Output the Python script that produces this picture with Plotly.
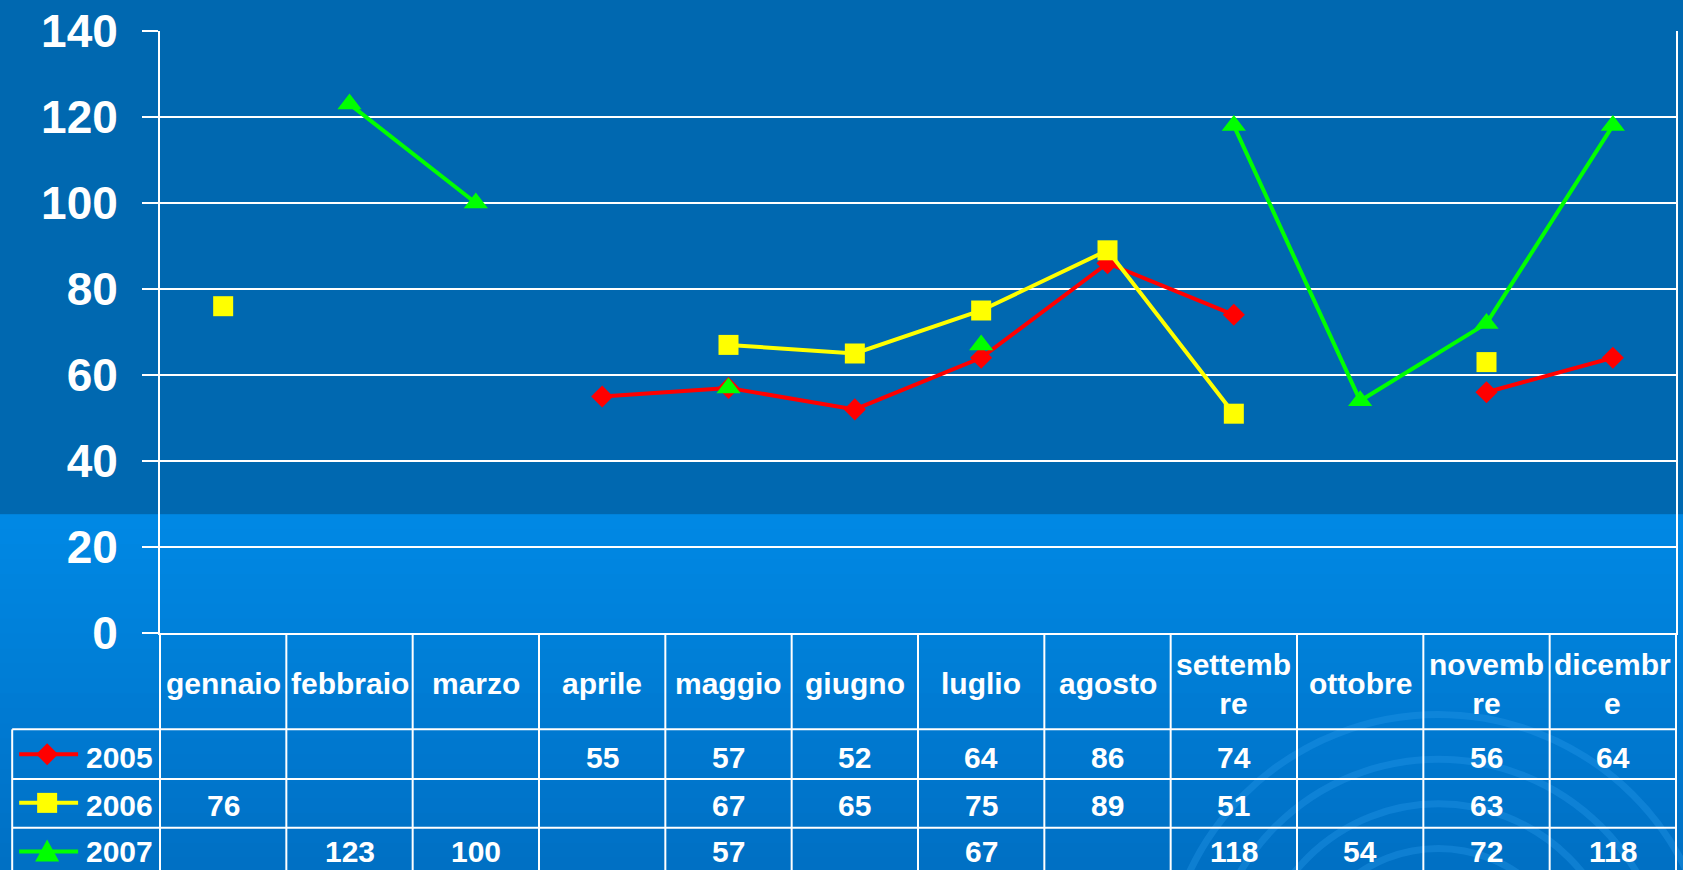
import plotly.graph_objects as go

# ---------------- data ----------------
months = ["gennaio", "febbraio", "marzo", "aprile", "maggio", "giugno",
          "luglio", "agosto", "settembre", "ottobre", "novembre", "dicembre"]
month_labels = ["gennaio", "febbraio", "marzo", "aprile", "maggio", "giugno",
                "luglio", "agosto", "settemb<br>re", "ottobre", "novemb<br>re", "dicembr<br>e"]
years = ["2005", "2006", "2007"]
v2005 = [None, None, None, 55, 57, 52, 64, 86, 74, None, 56, 64]
v2006 = [76, None, None, None, 67, 65, 75, 89, 51, None, 63, None]
v2007 = [None, 123, 100, None, 57, None, 67, None, 118, 54, 72, 118]
y_ticks = [0, 20, 40, 60, 80, 100, 120, 140]

series = [v2005, v2006, v2007]
colors = ["#FF0000", "#FFFF00", "#00FF00"]
symbols = ["diamond", "square", "triangle-up"]
msizes = [17, 20, 21]

# ---------------- geometry (pixels) ----------------
W, H = 1683, 870
L, R, T, B = 160, 1678, 27, 633
YMAX = 140
colw = (R - L) / len(months)

def xp(p):  # pixel x -> paper x
    return (p - L) / (R - L)

def yp(p):  # pixel y -> paper y
    return (B - p) / (B - T)

FONT = "Liberation Sans, Arial, sans-serif"
idx = list(range(len(months)))

fig = go.Figure()
for name, vals, c, s, ms in zip(years, series, colors, symbols, msizes):
    fig.add_trace(go.Scatter(
        x=idx, y=vals, mode="lines+markers", name=name,
        line=dict(color=c, width=4), connectgaps=False,
        marker=dict(symbol=s, size=ms, color=c, line=dict(width=0)),
        showlegend=False, hoverinfo="skip"))

shapes = []
# backgrounds
shapes.append(dict(type="rect", xref="paper", yref="paper",
                   x0=xp(-5), x1=xp(W + 5), y0=yp(514), y1=yp(-5),
                   fillcolor="#0068B0", line=dict(width=0), layer="below"))
nstrip = 24
top, bot = 514, H + 5
c0, c1 = (0, 136, 228), (0, 112, 196)
for i in range(nstrip):
    a = top + (bot - top) * i / nstrip
    b = top + (bot - top) * (i + 1) / nstrip
    t = i / (nstrip - 1)
    col = "rgb(%d,%d,%d)" % tuple(round(c0[k] + (c1[k] - c0[k]) * t) for k in range(3))
    shapes.append(dict(type="rect", xref="paper", yref="paper",
                       x0=xp(-5), x1=xp(W + 5), y0=yp(b), y1=yp(a) + 0.001,
                       fillcolor=col, line=dict(width=0), layer="below"))
# decorative faint arcs lower right
for rad in [140, 185, 230, 275]:
    cx, cy = 1440, 990
    shapes.append(dict(type="circle", xref="paper", yref="paper",
                       x0=xp(cx - rad), x1=xp(cx + rad),
                       y0=yp(cy + rad), y1=yp(cy - rad),
                       line=dict(color="rgba(40,155,235,0.35)", width=7),
                       layer="below"))

wl = dict(color="white", width=2)
# table horizontal lines
for p in [730, 780, 829]:
    shapes.append(dict(type="line", xref="paper", yref="paper",
                       x0=xp(12), x1=1, y0=yp(p), y1=yp(p), line=wl))
# table vertical lines
for k in range(len(months) + 1):
    x = xp(L + k * colw)
    shapes.append(dict(type="line", xref="paper", yref="paper",
                       x0=x, x1=x, y0=yp(B), y1=yp(H + 10), line=wl))
shapes.append(dict(type="line", xref="paper", yref="paper",
                   x0=xp(12), x1=xp(12), y0=yp(730), y1=yp(H + 10), line=wl))

row_centers = [755, 804, 853]
text_centers = [758, 807, 853]
marker_paths = {
    "diamond": "M -11 0 L 0 11 L 11 0 L 0 -11 Z",
    "square": "M -10 -10 L 10 -10 L 10 10 L -10 10 Z",
    "triangle-up": "M -12 -10 L 12 -10 L 0 12 Z",
}
annotations = []
TF = dict(family=FONT, size=30, color="white", weight="bold")
# header labels
for i, lab in enumerate(month_labels):
    annotations.append(dict(x=i, y=yp(684), xref="x", yref="paper",
                            text=lab, showarrow=False, font=TF,
                            xanchor="center", yanchor="middle"))
# values + legend
for r, (name, vals, c, s) in enumerate(zip(years, series, colors, symbols)):
    pc = row_centers[r]
    tc = text_centers[r]
    for i, v in enumerate(vals):
        if v is not None:
            annotations.append(dict(x=i, y=yp(tc), xref="x", yref="paper",
                                    text="%d" % v, showarrow=False, font=TF,
                                    xanchor="center", yanchor="middle"))
    annotations.append(dict(x=xp(84), y=yp(tc), xref="paper", yref="paper",
                            text=name, showarrow=False, font=TF,
                            xanchor="left", yanchor="middle"))
    shapes.append(dict(type="line", xref="paper", yref="paper",
                       x0=xp(19), x1=xp(78), y0=yp(pc), y1=yp(pc),
                       line=dict(color=c, width=4)))
    shapes.append(dict(type="path", xref="paper", yref="paper",
                       xsizemode="pixel", ysizemode="pixel",
                       xanchor=xp(47), yanchor=yp(pc),
                       path=marker_paths[s], fillcolor=c, line=dict(width=0)))

fig.update_layout(
    width=W, height=H,
    margin=dict(l=L, r=W - R, t=T, b=H - B, pad=0),
    paper_bgcolor="#0086E2", plot_bgcolor="rgba(0,0,0,0)",
    showlegend=False, shapes=shapes, annotations=annotations,
    font=dict(family=FONT, color="white"),
)
fig.update_xaxes(range=[-0.5, len(months) - 0.5], showgrid=False, zeroline=False,
                 showticklabels=False, ticks="", showline=True, linecolor="white",
                 linewidth=2, mirror=False)
fig.update_yaxes(range=[0, YMAX], tickvals=y_ticks, showgrid=True, gridcolor="white",
                 gridwidth=2, zeroline=False, showline=True, linecolor="white",
                 linewidth=2, mirror=True, ticks="outside", ticklen=16,
                 tickcolor="white", tickwidth=2, ticklabelstandoff=15,
                 tickfont=dict(family=FONT, size=46, color="white", weight="bold"))

fig.write_html("out.html", config={"displayModeBar": False},
               post_script="document.body.style.margin='0';document.body.style.overflow='hidden';")
